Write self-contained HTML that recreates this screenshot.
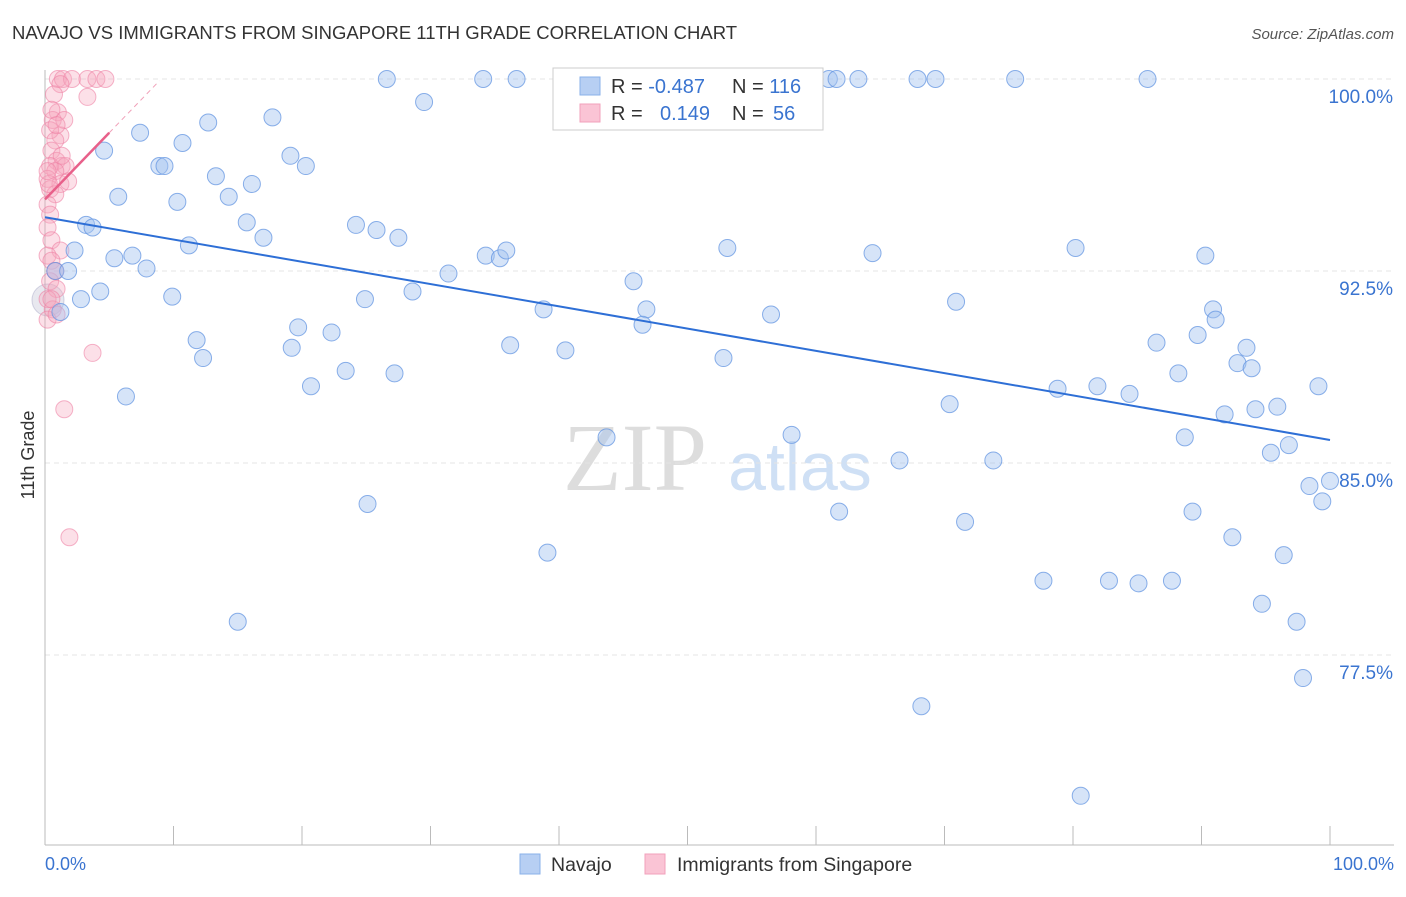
<!DOCTYPE html>
<html><head><meta charset="utf-8"><style>
body{margin:0;background:#fff;font-family:"Liberation Sans",sans-serif;}
</style></head><body>
<svg id="c" width="1406" height="892" xmlns="http://www.w3.org/2000/svg">
<text x="12" y="39" font-size="18.5" fill="#333">NAVAJO VS IMMIGRANTS FROM SINGAPORE 11TH GRADE CORRELATION CHART</text>
<text x="1394" y="39" font-size="15" fill="#555" font-style="italic" text-anchor="end">Source: ZipAtlas.com</text>
<text x="635" y="490" font-size="96" fill="#ddd" font-family="Liberation Serif,serif" text-anchor="middle">ZIP</text>
<text x="800" y="490" font-size="68" fill="#cfe0f5" text-anchor="middle">atlas</text>
<text transform="translate(34,455) rotate(-90)" font-size="18" fill="#333" text-anchor="middle">11th Grade</text>
<g id="grid"></g><g id="pts"></g><g id="lines"></g>
<g>
<rect x="553" y="68" width="270" height="62" fill="#fff" stroke="#ccc"/>
<rect x="580" y="77" width="20" height="18" fill="#b7cff3" stroke="#8ab0ea"/>
<rect x="580" y="104" width="20" height="18" fill="#fac4d5" stroke="#f2a0bb"/>
<text x="611" y="93" font-size="20" fill="#333">R = <tspan fill="#3a74d0">-0.487</tspan><tspan x="732">N = </tspan><tspan fill="#3a74d0">116</tspan></text>
<text x="611" y="120" font-size="20" fill="#333">R = <tspan x="660" fill="#3a74d0">0.149</tspan><tspan x="732">N = </tspan><tspan x="773" fill="#3a74d0">56</tspan></text>
</g>
<g>
<rect x="520" y="854" width="20" height="20" fill="#b7cff3" stroke="#8ab0ea"/>
<text x="551" y="871" font-size="19.5" fill="#333">Navajo</text>
<rect x="645" y="854" width="20" height="20" fill="#fac4d5" stroke="#f2a0bb"/>
<text x="677" y="871" font-size="19.5" fill="#333">Immigrants from Singapore</text>
</g>
</svg>
<script>
const yTicks=[100,92.5,85,77.5];
const yTickLabels=["100.0%","92.5%","85.0%","77.5%"];
const xTickLabels=["0.0%","100.0%"];
const navajoX=[26.6,34.1,36.7,52.4,61.0,61.6,63.3,67.9,69.3,75.5,85.8,29.5,7.4,12.7,17.7,4.6,10.7,19.1,8.9,9.3,20.3,13.3,16.1,5.7,14.3,10.3,15.7,24.2,17.0,25.8,27.5,3.2,3.7,2.3,5.4,6.8,7.9,11.2,34.3,35.4,35.9,31.4,53.1,64.4,80.2,90.3,0.8,1.8,4.3,2.8,9.9,24.9,28.6,45.8,38.8,46.8,46.5,56.5,70.9,90.9,91.1,1.2,19.7,22.3,11.8,12.3,19.2,36.2,40.5,52.8,86.5,89.7,93.5,92.8,93.9,20.7,23.4,27.2,99.1,88.2,78.8,81.9,84.4,6.3,70.4,91.8,94.2,95.9,43.7,58.1,88.7,96.8,95.4,66.5,73.8,98.4,100,99.4,25.1,61.8,71.6,89.3,92.4,39.1,96.4,77.7,82.8,85.1,87.7,94.7,97.4,15.0,97.9,68.2,80.6];
const navajoY=[100,100,100,100,100,100,100,100,100,100,100,99.1,97.9,98.3,98.5,97.2,97.5,97.0,96.6,96.6,96.6,96.2,95.9,95.4,95.4,95.2,94.4,94.3,93.8,94.1,93.8,94.3,94.2,93.3,93.0,93.1,92.6,93.5,93.1,93.0,93.3,92.4,93.4,93.2,93.4,93.1,92.5,92.5,91.7,91.4,91.5,91.4,91.7,92.1,91.0,91.0,90.4,90.8,91.3,91.0,90.6,90.9,90.3,90.1,89.8,89.1,89.5,89.6,89.4,89.1,89.7,90.0,89.5,88.9,88.7,88.0,88.6,88.5,88.0,88.5,87.9,88.0,87.7,87.6,87.3,86.9,87.1,87.2,86.0,86.1,86.0,85.7,85.4,85.1,85.1,84.1,84.3,83.5,83.4,83.1,82.7,83.1,82.1,81.5,81.4,80.4,80.4,80.3,80.4,79.5,78.8,78.8,76.6,75.5,72.0];
const singX=[1.0,1.4,2.1,3.3,4.0,4.7,1.2,3.3,0.7,1.0,0.6,1.2,0.4,0.8,0.5,0.9,1.3,0.4,1.6,0.8,0.2,1.2,0.4,0.8,0.2,0.4,0.2,0.5,1.2,0.2,0.5,0.8,0.4,0.9,0.2,0.6,0.2,0.9,3.7,1.5,1.9,1.8,1.5,0.5,0.9,0.3,1.3,0.2,0.8,0.5];
const singY=[100,100,100,100,100,100,99.8,99.3,99.4,98.7,98.4,97.8,98.0,97.6,97.2,96.8,96.6,96.6,96.6,96.4,96.1,95.9,95.7,95.5,95.1,94.7,94.2,93.7,93.3,93.1,92.9,92.5,92.1,91.8,91.4,91.0,90.6,90.8,89.3,87.1,82.1,96.0,98.4,98.8,98.2,95.9,97.0,96.4,92.5,91.4];
const navajoTrend=[94.6,85.9];
const singTrend=[95.3,100.5];
const NS="http://www.w3.org/2000/svg";
const X=v=>45+v*12.85, Y=v=>79+(100-v)*25.6;
function mk(t,a,p){const e=document.createElementNS(NS,t);for(const k in a)e.setAttribute(k,a[k]);document.getElementById(p).appendChild(e);return e;}
yTicks.forEach((t,i)=>{
 const g=mk('line',{x1:45,x2:1394,y1:Y(t),y2:Y(t),stroke:'#e4e4e4','stroke-dasharray':'5,4'},'grid');
 
 
 const l=mk('text',{x:1393,y:Y(t)+24,'font-size':19,fill:'#3a74d0','text-anchor':'end'},'grid');
 l.textContent=yTickLabels[i];
 
 
});
mk('line',{x1:45,x2:45,y1:70,y2:845,stroke:'#bbb'},'grid');
const ax=mk('line',{x1:45,x2:1394,y1:845,y2:845,stroke:'#bbb'},'grid');


for(let i=1;i<=10;i++){const t=mk('line',{x1:X(i*10),x2:X(i*10),y1:826,y2:845,stroke:'#bbb'},'grid');
 
 }
[[0,'start',45],[100,'end',1394]].forEach((d,i)=>{const l=mk('text',{x:d[2],y:870,'font-size':18,fill:'#3a74d0','text-anchor':d[1]},'grid');l.textContent=xTickLabels[i];
 
 });
mk('circle',{cx:48,cy:300,r:16,fill:'rgba(190,190,210,0.35)',stroke:'rgba(170,170,200,0.5)'},'pts');
singX.forEach((x,i)=>{const c=mk('circle',{cx:X(x),cy:Y(singY[i]),r:8.5,fill:'rgba(245,165,190,0.35)',stroke:'rgba(238,130,165,0.6)'},'pts');
 
 });
navajoX.forEach((x,i)=>{const c=mk('circle',{cx:X(x),cy:Y(navajoY[i]),r:8.5,fill:'rgba(165,195,240,0.45)',stroke:'rgba(100,150,225,0.75)'},'pts');
 
 });
const bl=mk('line',{x1:X(0),y1:Y(navajoTrend[0]),x2:X(100),y2:Y(navajoTrend[1]),stroke:'#2e6fd6','stroke-width':2},'lines');


const ps=v=>singTrend[0]+(singTrend[1]-singTrend[0])*v/10;
mk('line',{x1:X(5),y1:Y(ps(5)),x2:X(8.9),y2:Y(ps(8.9)),stroke:'#f0a0b8','stroke-width':1,'stroke-dasharray':'5,4'},'lines');
const pl=mk('line',{x1:X(0),y1:Y(ps(0)),x2:X(5),y2:Y(ps(5)),stroke:'#e8608a','stroke-width':2.5},'lines');


</script>
</body></html>
